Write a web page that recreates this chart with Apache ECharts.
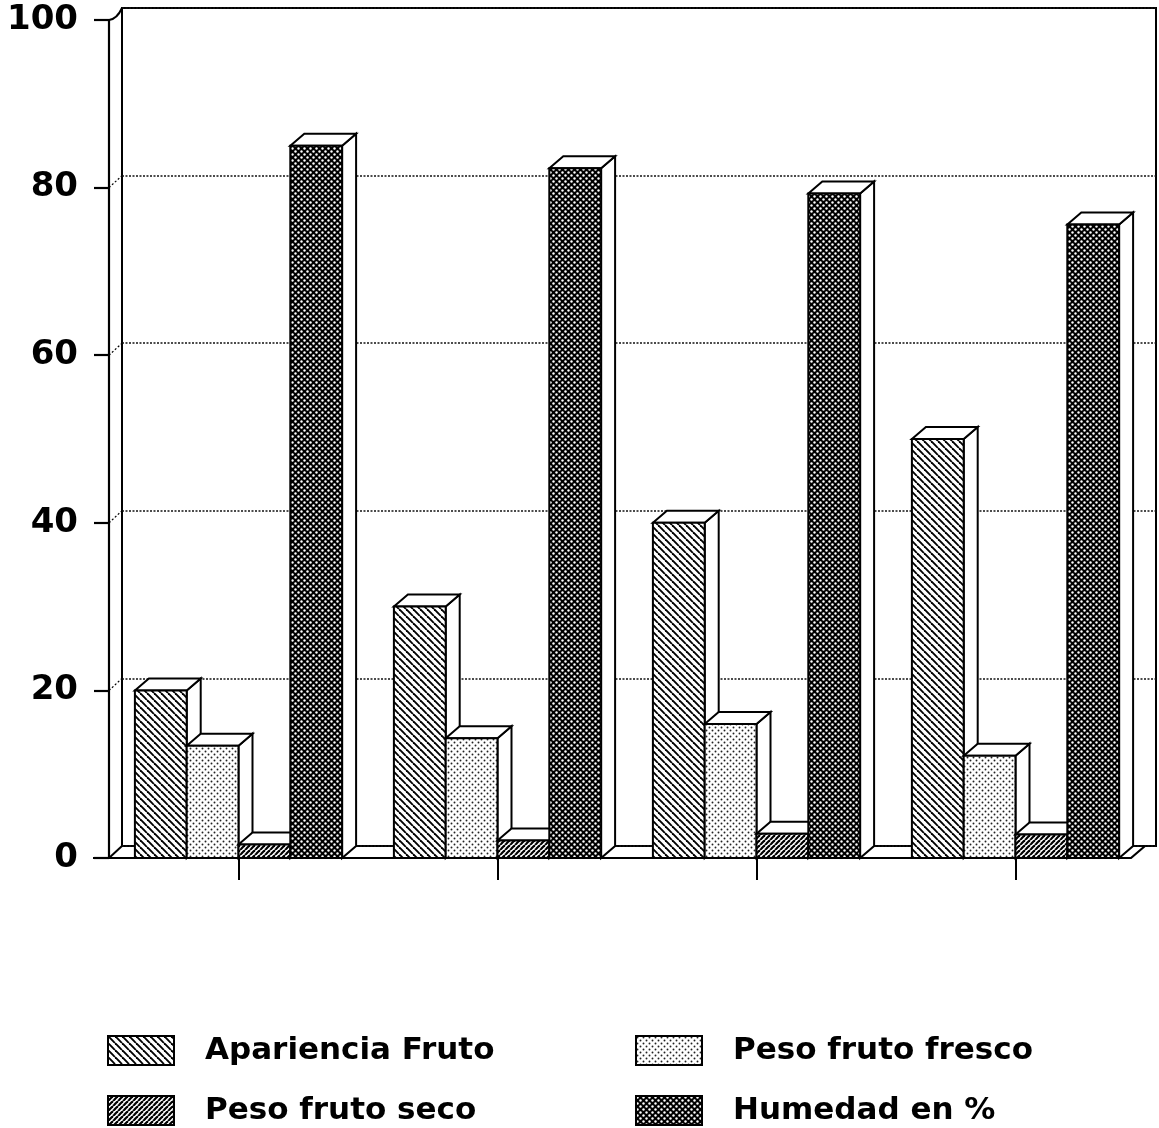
<!DOCTYPE html>
<html>
<head>
<meta charset="utf-8">
<script src="https://cdn.jsdelivr.net/npm/echarts@6/dist/echarts.min.js"></script>
<style>html,body{margin:0;padding:0;background:#fff;}#c{width:1159px;height:1128px;}</style>
</head>
<body>
<div id="c"></div>
<script>
// ---- data ----
const categories = ['1', '2', '3', '4'];
const seriesNames = ['Apariencia Fruto', 'Peso fruto fresco', 'Peso fruto seco', 'Humedad en %'];
const apariencia = [20, 30, 40, 50];
const pesoFresco = [13.4, 14.3, 16, 12.2];
const pesoSeco = [1.6, 2.1, 2.9, 2.8];
const humedad = [85, 82.3, 79.3, 75.6];
const yTicks = [0, 20, 40, 60, 80, 100];

// ---- patterns ----
function makeCanvas(s) { const c = document.createElement('canvas'); c.width = c.height = s; return c; }
function hatch(size, dir, lw) {
  const c = makeCanvas(size), g = c.getContext('2d');
  g.fillStyle = '#fff'; g.fillRect(0, 0, size, size);
  g.strokeStyle = '#000'; g.lineWidth = lw;
  for (let k = -1; k <= 1; k++) {
    g.beginPath();
    if (dir === 'back') { g.moveTo(k * size, 0); g.lineTo(k * size + size, size); }
    else { g.moveTo(k * size + size, 0); g.lineTo(k * size, size); }
    g.stroke();
  }
  return { image: c, repeat: 'repeat' };
}
function dots(size, bg, fg, r, pts) {
  const c = makeCanvas(size), g = c.getContext('2d');
  g.fillStyle = bg; g.fillRect(0, 0, size, size);
  g.fillStyle = fg;
  pts.forEach(p => { g.beginPath(); g.arc(p[0], p[1], r, 0, Math.PI * 2); g.fill(); });
  return { image: c, repeat: 'repeat' };
}
const patterns = [
  hatch(7, 'back', 1.9),
  dots(6, '#fff', '#222', 0.95, [[1.5, 1.5], [4.5, 4.5]]),
  hatch(5, 'fwd', 2.2),
  dots(6, '#000', '#fff', 1.2, [[1.5, 1.5], [4.5, 4.5]])
];
const values = [apariencia, pesoFresco, pesoSeco, humedad];

const DX = 14, DY = 12, LW = 2;

function barSeries(si) {
  return {
    name: seriesNames[si],
    type: 'custom',
    xAxisIndex: 0, yAxisIndex: 0,
    z: 10,
    itemStyle: { color: patterns[si], borderColor: '#000', borderWidth: 2 },
    data: categories.map((c, i) => [i, values[si][i]]),
    renderItem: function (params, api) {
      const cat = api.value(0), v = api.value(1);
      const top = api.coord([cat, v]), base = api.coord([cat, 0]);
      const band = api.size([1, 0])[0];
      const w = band * 0.2;
      const x0 = top[0] - band * 0.4 + si * w;
      const yT = top[1], yB = base[1];
      return {
        type: 'group',
        children: [
          { type: 'polygon', shape: { points: [[x0 + w, yT], [x0 + w + DX, yT - DY], [x0 + w + DX, yB - DY], [x0 + w, yB]] },
            style: { fill: '#fff', stroke: '#000', lineWidth: LW } },
          { type: 'polygon', shape: { points: [[x0, yT], [x0 + DX, yT - DY], [x0 + w + DX, yT - DY], [x0 + w, yT]] },
            style: { fill: '#fff', stroke: '#000', lineWidth: LW } },
          { type: 'rect', shape: { x: x0, y: yT, width: w, height: yB - yT },
            style: { fill: patterns[si], stroke: '#000', lineWidth: LW } }
        ]
      };
    }
  };
}

// connectors from front ticks to back wall + floor edges
const frameSeries = {
  type: 'custom', xAxisIndex: 0, yAxisIndex: 0, z: 5, silent: true,
  data: yTicks.map(t => [0, t]),
  renderItem: function (params, api) {
    const cs = params.coordSys;
    const v = api.value(1);
    const y = api.coord([0, v])[1];
    const x = cs.x;
    const children = [];
    if (v === 0) {
      children.push({ type: 'polyline', shape: { points: [[x, y], [x + DX - 1, y - DY]] }, style: { stroke: '#000', lineWidth: LW, fill: null } });
      children.push({ type: 'polyline', shape: { points: [[x - 16, y], [cs.x + cs.width - DX, y], [cs.x + cs.width, y - DY]] }, style: { stroke: '#000', lineWidth: 2.2, fill: null } });
    } else if (v === 100) {
      children.push({ type: 'bezierCurve', shape: { x1: x, y1: y, x2: x + DX - 1, y2: y - DY, cpx1: x + 8, cpy1: y - 1 }, style: { stroke: '#000', lineWidth: LW, fill: null } });
    } else {
      children.push({ type: 'polyline', shape: { points: [[x, y], [x + DX - 1, y - DY]] }, style: { stroke: '#000', lineWidth: 1.2, lineDash: [2, 2], fill: null } });
    }
    return { type: 'group', children: children };
  }
};

const legendText = { fontFamily: 'DejaVu Sans', fontWeight: 'bold', fontSize: 31, lineHeight: 31, color: '#000', padding: [0, 0, 0, 26] };
function legendItem(si) {
  return { name: seriesNames[si], icon: 'rect', itemStyle: { color: patterns[si], borderColor: '#000', borderWidth: 2 } };
}

const option = {
  backgroundColor: '#fff',
  animation: false,
  grid: [
    { left: 109, right: 14, top: 20, bottom: 270 },
    { left: 122, right: 3, top: 8, bottom: 282, show: true, borderColor: '#000', borderWidth: 2, backgroundColor: 'transparent', z: 0 }
  ],
  xAxis: [
    { type: 'category', gridIndex: 0, data: categories,
      axisLine: { show: false },
      axisTick: { show: true, alignWithLabel: true, length: 22, lineStyle: { color: '#000', width: 2 } },
      axisLabel: { show: false }, splitLine: { show: false } },
    { type: 'category', gridIndex: 1, data: categories, show: false }
  ],
  yAxis: [
    { type: 'value', gridIndex: 0, min: 0, max: 100, interval: 20,
      axisLine: { show: true, lineStyle: { color: '#000', width: 2.2 } },
      axisTick: { show: true, length: 15, lineStyle: { color: '#000', width: 2.2 } },
      axisLabel: { show: true, margin: 31, color: '#000', fontFamily: 'DejaVu Sans', fontWeight: 'bold', fontSize: 34 },
      splitLine: { show: false } },
    { type: 'value', gridIndex: 1, min: 0, max: 100, interval: 20,
      axisLine: { show: false }, axisTick: { show: false }, axisLabel: { show: false },
      splitLine: { show: true, lineStyle: { color: '#111', width: 1.6, type: [2, 1.5] } } }
  ],
  legend: [
    { orient: 'vertical', left: 107, top: 1035, padding: 0, itemWidth: 66, itemHeight: 29, itemGap: 29,
      selectedMode: false, textStyle: legendText, data: [legendItem(0), legendItem(2)] },
    { orient: 'vertical', left: 635, top: 1035, padding: 0, itemWidth: 66, itemHeight: 29, itemGap: 29,
      selectedMode: false, textStyle: legendText, data: [legendItem(1), legendItem(3)] }
  ],
  series: [frameSeries, barSeries(0), barSeries(1), barSeries(2), barSeries(3)]
};

const chart = echarts.init(document.getElementById('c'), null, { renderer: 'canvas' });
chart.setOption(option);
</script>
</body>
</html>
